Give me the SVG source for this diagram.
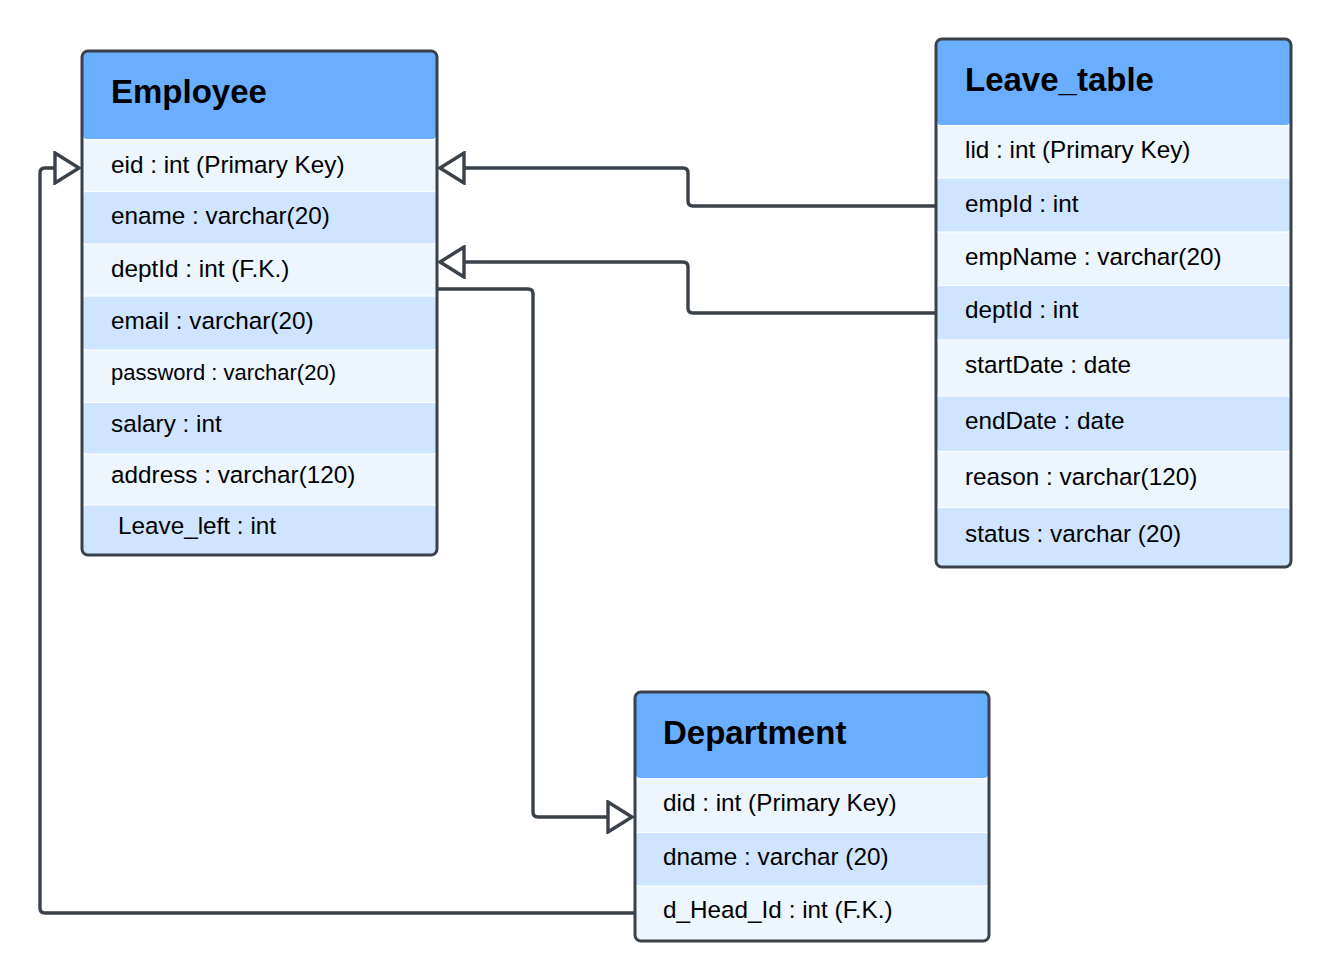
<svg xmlns="http://www.w3.org/2000/svg" width="1329" height="980" viewBox="0 0 1329 980">
<style>
.hd{fill:#6AAFFF}
.l{fill:#EDF5FF}
.d{fill:#CFE4FF}
.frame{fill:none;stroke:#3A414A;stroke-width:3}
.t{font-family:"Liberation Sans",Arial,sans-serif;font-size:24.3px;fill:#000}
.s{font-size:22px}
.h{font-family:"Liberation Sans",Arial,sans-serif;font-size:33px;font-weight:bold;fill:#000}
.c{fill:none;stroke:#3A414A;stroke-width:3.4;stroke-linejoin:round;marker-end:url(#tri)}
</style>
<defs>
<marker id="tri" markerUnits="userSpaceOnUse" viewBox="0 0 28 34" markerWidth="28" markerHeight="34" refX="26" refY="17" orient="auto">
<path d="M2,2 L26,17 L2,32 Z" fill="#fff" stroke="#3A414A" stroke-width="3.4" stroke-linejoin="miter"/>
</marker>
</defs>
<rect width="1329" height="980" fill="#fff"/>

<g id="connectors">
<path class="c" d="M936 206 H693 Q688 206 688 201 V173 Q688 168 683 168 H440"/>
<path class="c" d="M936 313 H693 Q688 313 688 308 V267 Q688 262 683 262 H440"/>
<path class="c" d="M437 289 H528 Q533 289 533 294 V812 Q533 817 538 817 H632"/>
<path class="c" d="M637 913 H45 Q40 913 40 908 V173 Q40 168 45 168 H79"/>
</g>

<g id="employee">
<rect x="82" y="51" width="355" height="504" rx="6" fill="#fff"/>
<rect class="hd" x="83" y="52" width="353" height="87" rx="4"/>
<rect class="l" x="83" y="140" width="353" height="51" rx="3"/>
<rect class="d" x="83" y="192" width="353" height="51.5" rx="3"/>
<rect class="l" x="83" y="244.5" width="353" height="51" rx="3"/>
<rect class="d" x="83" y="296.5" width="353" height="53" rx="3"/>
<rect class="l" x="83" y="350.5" width="353" height="51.5" rx="3"/>
<rect class="d" x="83" y="403" width="353" height="50.5" rx="3"/>
<rect class="l" x="83" y="454.5" width="353" height="50" rx="3"/>
<rect class="d" x="83" y="505.5" width="353" height="48.5" rx="3"/>
<rect class="frame" x="82" y="51" width="355" height="504" rx="6"/>
<text class="h" x="111" y="103">Employee</text>
<text class="t" x="111" y="173">eid : int (Primary Key)</text>
<text class="t" x="111" y="224">ename : varchar(20)</text>
<text class="t" x="111" y="277">deptId : int (F.K.)</text>
<text class="t" x="111" y="329">email : varchar(20)</text>
<text class="t s" x="111" y="380">password : varchar(20)</text>
<text class="t" x="111" y="432">salary : int</text>
<text class="t" x="111" y="483">address : varchar(120)</text>
<text class="t" x="118" y="534">Leave_left : int</text>
</g>

<g id="leave_table">
<rect x="936" y="39" width="355" height="528" rx="6" fill="#fff"/>
<rect class="hd" x="937" y="40" width="353" height="85" rx="4"/>
<rect class="l" x="937" y="126" width="353" height="51.5" rx="3"/>
<rect class="d" x="937" y="178.5" width="353" height="53" rx="3"/>
<rect class="l" x="937" y="232.5" width="353" height="52.5" rx="3"/>
<rect class="d" x="937" y="286" width="353" height="53.5" rx="3"/>
<rect class="l" x="937" y="340.5" width="353" height="55" rx="3"/>
<rect class="d" x="937" y="396.5" width="353" height="54.5" rx="3"/>
<rect class="l" x="937" y="452" width="353" height="55" rx="3"/>
<rect class="d" x="937" y="508" width="353" height="58" rx="3"/>
<rect class="frame" x="936" y="39" width="355" height="528" rx="6"/>
<text class="h" x="965" y="91">Leave_table</text>
<text class="t" x="965" y="158">lid : int (Primary Key)</text>
<text class="t" x="965" y="212">empId : int</text>
<text class="t" x="965" y="265">empName : varchar(20)</text>
<text class="t" x="965" y="318">deptId : int</text>
<text class="t" x="965" y="373">startDate : date</text>
<text class="t" x="965" y="429">endDate : date</text>
<text class="t" x="965" y="485">reason : varchar(120)</text>
<text class="t" x="965" y="542">status : varchar (20)</text>
</g>

<g id="department">
<rect x="635" y="692" width="354" height="249" rx="6" fill="#fff"/>
<rect class="hd" x="636" y="693" width="352" height="85" rx="4"/>
<rect class="l" x="636" y="779" width="352" height="53" rx="3"/>
<rect class="d" x="636" y="833" width="352" height="52.5" rx="3"/>
<rect class="l" x="636" y="886.5" width="352" height="53.5" rx="3"/>
<rect class="frame" x="635" y="692" width="354" height="249" rx="6"/>
<text class="h" x="663" y="744">Department</text>
<text class="t" x="663" y="811">did : int (Primary Key)</text>
<text class="t" x="663" y="865">dname : varchar (20)</text>
<text class="t" x="663" y="918">d_Head_Id : int (F.K.)</text>
</g>
</svg>
